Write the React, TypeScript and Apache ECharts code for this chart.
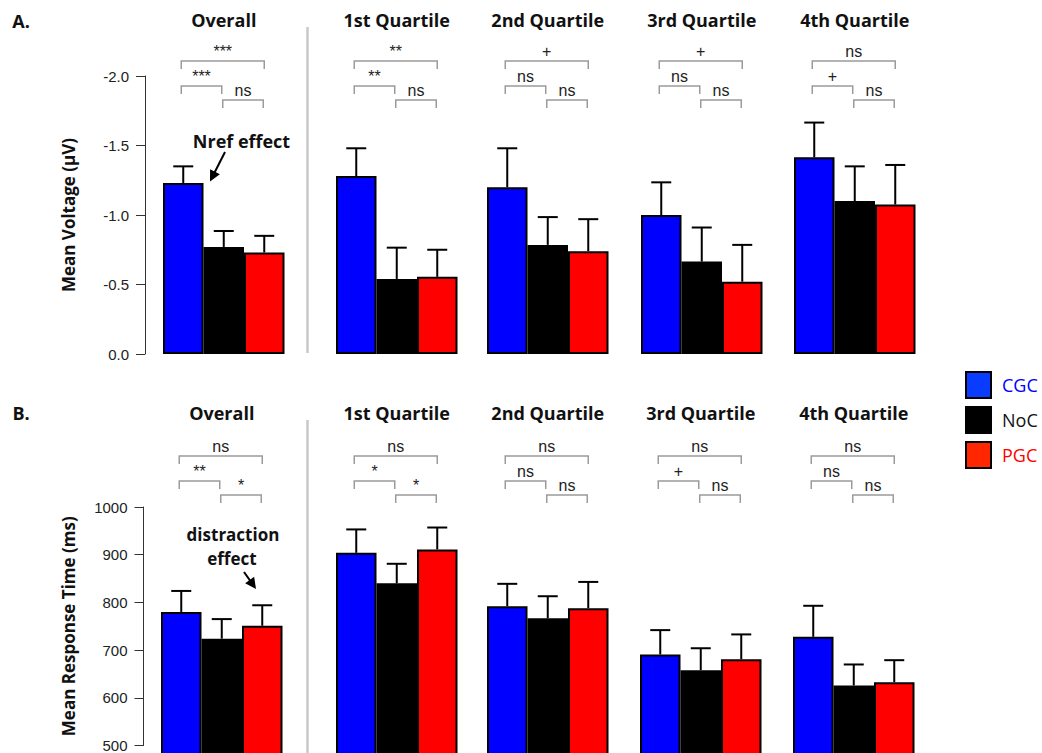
import React, { useEffect, useRef } from "react";
import * as echarts from "echarts";

// ---------------- data ----------------
const groupNames = ["Overall", "1st Quartile", "2nd Quartile", "3rd Quartile", "4th Quartile"];
const conditionNames = ["CGC", "NoC", "PGC"];

// Panel A: mean voltage (µV)
const voltageCGC = [-1.23, -1.28, -1.2, -1.0, -1.415];
const voltageNoC = [-0.77, -0.54, -0.785, -0.665, -1.1];
const voltagePGC = [-0.73, -0.555, -0.74, -0.52, -1.075];
const voltageSeCGC = [0.12, 0.2, 0.28, 0.235, 0.25];
const voltageSeNoC = [0.115, 0.225, 0.2, 0.245, 0.25];
const voltageSePGC = [0.12, 0.195, 0.23, 0.265, 0.285];

// Panel B: mean response time (ms)
const rtCGC = [780, 904, 792, 691, 728];
const rtNoC = [724, 840, 767, 658, 626];
const rtPGC = [751, 911, 788, 681, 633];
const rtSeCGC = [44, 49, 47, 51, 65];
const rtSeNoC = [41, 41, 46, 46, 44];
const rtSePGC = [43, 46, 55, 52, 46];

// significance: [CGC vs PGC, CGC vs NoC, NoC vs PGC]
const sigVoltage = [
  ["***", "***", "ns"],
  ["**", "**", "ns"],
  ["+", "ns", "ns"],
  ["+", "ns", "ns"],
  ["ns", "+", "ns"],
];
const sigRT = [
  ["ns", "**", "*"],
  ["ns", "*", "*"],
  ["ns", "ns", "ns"],
  ["ns", "+", "ns"],
  ["ns", "ns", "ns"],
];

// axis ranges
const voltageAxis = { min: -2, max: 0, interval: 0.5 };
const rtAxis = { min: 500, max: 1000, interval: 100 };

// ---------------- styles / layout ----------------
const barColors = ["#0000ff", "#000000", "#ff0000"];
const legendSwatch = ["#0a3cff", "#000000", "#ff2600"];
const legendText = ["#0000ff", "#111111", "#ff0000"];
const GROUP_W = 121.5;
const layoutA = { lefts: [163, 336, 487, 641, 794], top: 76, height: 278, axisOffset: 18, nameGap: 68, titleY: 20, bracketY0: 0, letterY: 21 };
const layoutB = { lefts: [161, 336, 487, 640, 793], top: 507, height: 238.6, axisOffset: 17.5, nameGap: 67, titleY: 413, bracketY0: 395, letterY: 413 };

const TICK_FONT = "Liberation Sans";
const BOLD_FONT = '"Open Sans"';

function errorRender(params: any, api: any) {
  const x = api.value(0);
  const v = api.value(1);
  const e = api.value(2);
  const p0 = api.coord([x, v]);
  const p1 = api.coord([x, e]);
  const half = 10;
  return {
    type: "group",
    children: [
      { type: "line", shape: { x1: p0[0], y1: p0[1], x2: p1[0], y2: p1[1] }, style: { stroke: "#000", lineWidth: 2 } },
      { type: "line", shape: { x1: p1[0] - half, y1: p1[1], x2: p1[0] + half, y2: p1[1] }, style: { stroke: "#000", lineWidth: 2 } },
    ],
  };
}

function buildOption() {
  const grid: any[] = [];
  const xAxis: any[] = [];
  const yAxis: any[] = [];
  const series: any[] = [];

  const axisCommon = {
    axisLine: { show: true, lineStyle: { color: "#333", width: 1 } },
    axisTick: { show: true, length: 9, lineStyle: { color: "#333", width: 1 } },
    splitLine: { show: false },
    nameLocation: "middle",
    nameTextStyle: { fontFamily: BOLD_FONT, fontWeight: "bold", fontSize: 17, color: "#111" },
  };

  const panels = [
    {
      vals: [voltageCGC, voltageNoC, voltagePGC],
      ses: [voltageSeCGC, voltageSeNoC, voltageSePGC],
      sign: -1,
      layout: layoutA,
      axis: voltageAxis,
      inverse: true,
      name: "Mean Voltage (µV)",
      formatter: (v: number) => v.toFixed(1),
    },
    {
      vals: [rtCGC, rtNoC, rtPGC],
      ses: [rtSeCGC, rtSeNoC, rtSePGC],
      sign: 1,
      layout: layoutB,
      axis: rtAxis,
      inverse: false,
      name: "Mean Response Time (ms)",
      formatter: (v: number) => String(v),
    },
  ];

  panels.forEach((p) => {
    for (let g = 0; g < groupNames.length; g++) {
      const idx = grid.length;
      grid.push({ left: p.layout.lefts[g], top: p.layout.top, width: GROUP_W, height: p.layout.height });
      xAxis.push({ type: "category", gridIndex: idx, data: conditionNames, show: false });
      if (g === 0) {
        yAxis.push({
          type: "value",
          gridIndex: idx,
          min: p.axis.min,
          max: p.axis.max,
          interval: p.axis.interval,
          inverse: p.inverse,
          offset: p.layout.axisOffset,
          name: p.name,
          nameGap: p.layout.nameGap,
          ...axisCommon,
          axisLabel: { margin: 16, fontSize: 15, color: "#222", fontFamily: TICK_FONT, formatter: p.formatter },
        });
      } else {
        yAxis.push({ type: "value", gridIndex: idx, min: p.axis.min, max: p.axis.max, interval: p.axis.interval, inverse: p.inverse, show: false, splitLine: { show: false } });
      }
      for (let c = 0; c < 3; c++) {
        series.push({
          type: "bar",
          name: conditionNames[c],
          xAxisIndex: idx,
          yAxisIndex: idx,
          barGap: "-100%",
          barCategoryGap: 0,
          clip: false,
          itemStyle: { color: barColors[c], borderColor: "#000", borderWidth: 2 },
          emphasis: { disabled: true },
          data: conditionNames.map((_, k) => (k === c ? p.vals[c][g] : "-")),
        });
      }
      series.push({
        type: "custom",
        xAxisIndex: idx,
        yAxisIndex: idx,
        renderItem: errorRender,
        silent: true,
        clip: false,
        data: conditionNames.map((_, c) => [c, p.vals[c][g], p.vals[c][g] + p.sign * p.ses[c][g]]),
      });
    }
  });

  return {
    animation: false,
    textStyle: { fontFamily: TICK_FONT },
    grid,
    xAxis,
    yAxis,
    series,
    legend: {
      orient: "vertical",
      left: 965,
      top: 371,
      padding: 0,
      itemWidth: 25,
      itemHeight: 26,
      itemGap: 7,
      icon: "rect",
      selectedMode: false,
      itemStyle: { borderColor: "#000", borderWidth: 2 },
      textStyle: { fontFamily: BOLD_FONT, fontSize: 18, padding: [0, 0, 0, 6] },
      data: conditionNames.map((n, i) => ({
        name: n,
        itemStyle: { color: legendSwatch[i], borderColor: "#000", borderWidth: 2 },
        textStyle: { color: legendText[i] },
      })),
    },
  };
}

function txt(text: string, x: number, y: number, font: string, fill = "#111") {
  return {
    type: "text",
    x,
    y,
    silent: true,
    style: {
      text,
      font,
      fill,
      align: "center",
      verticalAlign: "middle",
      textAlign: "center",
      textVerticalAlign: "middle",
    },
  };
}

function arrow(x1: number, y1: number, x2: number, y2: number) {
  const dx = x2 - x1;
  const dy = y2 - y1;
  const len = Math.hypot(dx, dy);
  const ux = dx / len;
  const uy = dy / len;
  const hl = 11;
  const hw = 5.5;
  const bx = x2 - ux * hl;
  const by = y2 - uy * hl;
  const px = -uy;
  const py = ux;
  return [
    { type: "line", silent: true, shape: { x1, y1, x2: bx + ux * 2, y2: by + uy * 2 }, style: { stroke: "#000", lineWidth: 2 } },
    {
      type: "polygon",
      silent: true,
      shape: { points: [[x2, y2], [bx + px * hw, by + py * hw], [bx - px * hw, by - py * hw]] },
      style: { fill: "#000" },
    },
  ];
}

function buildGraphic(chart: any) {
  const els: any[] = [];
  const titleFont = `bold 18px ${BOLD_FONT}`;
  const noteFont = `bold 17px ${BOLD_FONT}`;
  const sigFont = `16px "${TICK_FONT}"`;
  const bracketOffsets = [61, 86, 100];

  const panels = [
    { gridStart: 0, sig: sigVoltage, layout: layoutA, letter: "A." },
    { gridStart: 5, sig: sigRT, layout: layoutB, letter: "B." },
  ];
  panels.forEach((p) => {
    els.push(txt(p.letter, 21, p.layout.letterY, titleFont, "#111"));
    for (let g = 0; g < groupNames.length; g++) {
      const cx = [0, 1, 2].map((c) => chart.convertToPixel({ xAxisIndex: p.gridStart + g }, c));
      els.push(txt(groupNames[g], cx[1], p.layout.titleY, titleFont, "#111"));
      const specs = [
        { x1: cx[0] - 2, x2: cx[2], y: p.layout.bracketY0 + bracketOffsets[0], label: p.sig[g][0] },
        { x1: cx[0] - 2, x2: cx[1] - 2, y: p.layout.bracketY0 + bracketOffsets[1], label: p.sig[g][1] },
        { x1: cx[1] - 1, x2: cx[2] - 1, y: p.layout.bracketY0 + bracketOffsets[2], label: p.sig[g][2] },
      ];
      specs.forEach((s) => {
        els.push({
          type: "polyline",
          silent: true,
          shape: { points: [[s.x1, s.y + 8], [s.x1, s.y], [s.x2, s.y], [s.x2, s.y + 8]] },
          style: { stroke: "#9b9b9b", lineWidth: 1.5, fill: null },
        });
        els.push(txt(s.label, (s.x1 + s.x2) / 2, s.y - 10, sigFont, "#222"));
      });
    }
  });

  // separators
  els.push({ type: "line", silent: true, shape: { x1: 307.5, y1: 27, x2: 307.5, y2: 353 }, style: { stroke: "#c8c8c8", lineWidth: 2.5 } });
  els.push({ type: "line", silent: true, shape: { x1: 307.5, y1: 420, x2: 307.5, y2: 753 }, style: { stroke: "#c8c8c8", lineWidth: 2.5 } });

  // annotations
  els.push(txt("Nref effect", 241.5, 141, titleFont, "#111"));
  els.push(...arrow(225, 152, 210, 181.5));
  els.push(txt("distraction", 233, 534, noteFont, "#111"));
  els.push(txt("effect", 232, 558, noteFont, "#111"));
  els.push(...arrow(244, 572, 256, 589));

  return els;
}

export default function App() {
  const ref = useRef<HTMLDivElement>(null);
  useEffect(() => {
    document.body.style.margin = "0";
    if (!ref.current) return;
    const chart = echarts.init(ref.current, null, { renderer: "svg" });
    chart.setOption(buildOption() as any);
    chart.setOption({ graphic: buildGraphic(chart) } as any);
    return () => chart.dispose();
  }, []);
  return <div ref={ref} style={{ position: "fixed", left: 0, top: 0, width: 1042, height: 753, background: "#fff" }} />;
}
